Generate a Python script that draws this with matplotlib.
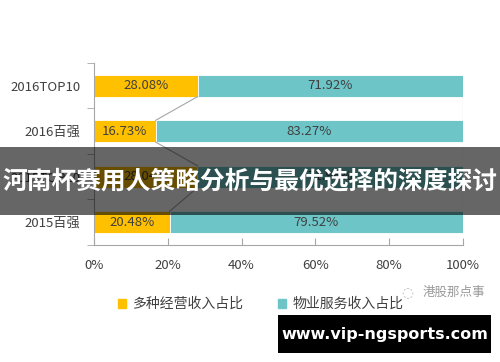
import matplotlib.pyplot as plt
from matplotlib.patches import Rectangle

plt.rcParams['font.family'] = ['Noto Sans CJK SC', 'DejaVu Sans']

# данные
categories = ['2016TOP10', '2016百强', '2015TOP10', '2015百强']
diversified = [28.08, 16.73, 28.04, 20.48]
property_service = [71.92, 83.27, 71.96, 79.52]
series_names = ['多种经营收入占比', '物业服务收入占比']
x_ticks = [0, 20, 40, 60, 80, 100]
title = '河南杯赛用人策略分析与最优选择的深度探讨'

yellow = '#FFC000'
teal = '#6EC5C8'
text_c = '#404040'
grey = '#A6A6A6'

fig = plt.figure(figsize=(5, 3.62), dpi=100)
ax = fig.add_axes([0.188, 0.3232, 0.738, 0.503])

y = list(range(len(categories)))
h = 0.48
ax.barh(y, diversified, height=h, color=yellow, edgecolor='white', linewidth=0.6)
ax.barh(y, property_service, left=diversified, height=h, color=teal,
        edgecolor='white', linewidth=0.6)

# подписи значений
for i in y:
    ax.text(diversified[i] / 2, i, f'{diversified[i]:.2f}%', ha='center', va='center',
            fontsize=9.5, color=text_c)
    ax.text(diversified[i] + property_service[i] / 2, i, f'{property_service[i]:.2f}%',
            ha='center', va='center', fontsize=9.5, color=text_c)

# линии рядов
for i in range(len(categories) - 1):
    ax.plot([diversified[i], diversified[i + 1]], [i + h / 2, i + 1 - h / 2],
            color=grey, lw=0.8, zorder=1)
    ax.plot([100, 100], [i + h / 2, i + 1 - h / 2], color=grey, lw=0.8, zorder=1)

ax.set_xlim(0, 100)
ax.set_ylim(3.5, -0.5)
ax.set_xticks(x_ticks)
ax.set_xticklabels([f'{t}%' for t in x_ticks])
ax.set_yticks(y)
ax.set_yticklabels(categories)
ax.set_yticks([-0.5, 0.5, 1.5, 2.5, 3.5], minor=True)
ax.tick_params(axis='y', which='major', length=0, pad=10, labelsize=9.5, labelcolor=text_c)
ax.tick_params(axis='y', which='minor', length=5, direction='out', color=grey)
ax.tick_params(axis='x', length=5, direction='in', color=grey, pad=10,
               labelsize=9.5, labelcolor=text_c)
for s in ['top', 'right']:
    ax.spines[s].set_visible(False)
for s in ['left', 'bottom']:
    ax.spines[s].set_color(grey)
    ax.spines[s].set_linewidth(0.8)

# легенда
handles = [Rectangle((0, 0), 1, 1, color=yellow), Rectangle((0, 0), 1, 1, color=teal)]
fig.legend(handles, series_names, loc='center', bbox_to_anchor=(0.522, 0.16), ncol=2,
           frameon=False, fontsize=10, handlelength=0.6, handleheight=0.6,
           handletextpad=0.5, columnspacing=2.4, labelcolor=text_c)

# водяной знак
fig.text(0.846, 0.193, '港股那点事', fontsize=9, color='#9A9A9A', ha='left', va='center')
fig.text(0.815, 0.193, '◌', fontsize=10, color='#BBBBBB', ha='center', va='center',
         family='DejaVu Sans')

# баннер
fig.patches.append(Rectangle((0, 1 - 215 / 362), 1, 68 / 362, transform=fig.transFigure,
                             facecolor='black', alpha=0.6, lw=0, zorder=5))
fig.text(0.5, 1 - 181 / 362, title, fontsize=17.8, fontweight='bold', color='white',
         ha='center', va='center', zorder=6)

fig.patches.append(Rectangle((278 / 500, 1 - 353 / 362), 213 / 500, 38 / 362,
                             transform=fig.transFigure, facecolor='black', lw=0, zorder=5))
fig.text(384.5 / 500, 1 - 334 / 362, 'www.vip-ngsports.com', fontsize=11.5, fontweight='bold',
         color='white', ha='center', va='center', zorder=6, family='DejaVu Sans')

fig.savefig('out.png', dpi=100)
